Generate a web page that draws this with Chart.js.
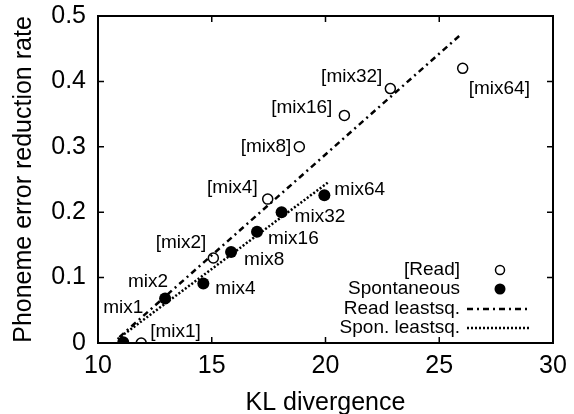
<!DOCTYPE html>
<html><head><meta charset="utf-8">
<script src="https://cdn.jsdelivr.net/npm/chart.js@4.4.1/dist/chart.umd.min.js"></script>
<style>html,body{margin:0;padding:0;background:#fff}#wrap{width:574px;height:414px}</style>
</head><body><div id="wrap"><canvas id="c" width="574" height="414"></canvas></div>
<script>
const readLabels = ['[mix1]','[mix2]','[mix4]','[mix8]','[mix16]','[mix32]','[mix64]'];
const readX = [11.9, 15.07, 17.46, 18.85, 20.83, 22.85, 26.03];
const readY = [0.0, 0.130, 0.220, 0.300, 0.348, 0.389, 0.420];
const sponLabels = ['mix1','mix2','mix4','mix8','mix16','mix32','mix64'];
const sponX = [11.11, 12.95, 14.63, 15.85, 16.99, 18.07, 19.95];
const sponY = [0.001, 0.068, 0.091, 0.139, 0.170, 0.200, 0.226];
const readFitX = [10.94, 25.96];
const readFitY = [0.009, 0.472];
const sponFitX = [10.86, 20.17];
const sponFitY = [0.006, 0.247];
const xTicks = [10, 15, 20, 25, 30];
const yTicks = [0, 0.1, 0.2, 0.3, 0.4, 0.5];
const legendNames = ['[Read]', 'Spontaneous', 'Read leastsq.', 'Spon. leastsq.'];

const FONT = "'Liberation Sans', Arial, sans-serif";
const toPts = (xs, ys) => xs.map((x, i) => ({x, y: ys[i]}));

// label placement: [align, dx, dy]
const readPlace = [['left',9,-11],['right',-7,-15],['right',-10,-11],['right',-8,0],['right',-12,-8],['right',-8,-12],['left',6,20]];
const sponPlace = [['center',0,-35],['right',3,-17],['left',12,5],['left',13,8],['left',11,7],['left',13,5],['left',10,-5]];

const deco = {
  id: 'deco',
  afterDatasetsDraw(chart) {
    const {ctx, chartArea: a, scales: {x, y}} = chart;
    ctx.save();
    ctx.strokeStyle = '#000'; ctx.lineWidth = 2;
    ctx.strokeRect(a.left, a.top, a.right - a.left, a.bottom - a.top);
    ctx.lineWidth = 1.5;
    const tl = 6;
    xTicks.forEach(v => {
      const px = x.getPixelForValue(v);
      ctx.beginPath(); ctx.moveTo(px, a.bottom); ctx.lineTo(px, a.bottom - tl);
      ctx.moveTo(px, a.top); ctx.lineTo(px, a.top + tl); ctx.stroke();
    });
    yTicks.forEach(v => {
      const py = y.getPixelForValue(v);
      ctx.beginPath(); ctx.moveTo(a.left, py); ctx.lineTo(a.left + tl, py);
      ctx.moveTo(a.right, py); ctx.lineTo(a.right - tl, py); ctx.stroke();
    });
    ctx.fillStyle = '#000';
    ctx.font = '19px ' + FONT;
    ctx.textBaseline = 'middle';
    readLabels.forEach((t, i) => {
      const p = readPlace[i];
      ctx.textAlign = p[0];
      ctx.fillText(t, x.getPixelForValue(readX[i]) + p[1], y.getPixelForValue(readY[i]) + p[2]);
    });
    sponLabels.forEach((t, i) => {
      const p = sponPlace[i];
      ctx.textAlign = p[0];
      ctx.fillText(t, x.getPixelForValue(sponX[i]) + p[1], y.getPixelForValue(sponY[i]) + p[2]);
    });
    const tx = a.right - 93, sx = a.right - 53;
    const rows = [a.bottom - 73, a.bottom - 54, a.bottom - 34, a.bottom - 15];
    ctx.textAlign = 'right';
    legendNames.forEach((t, i) => ctx.fillText(t, tx, rows[i]));
    ctx.lineWidth = 1.5;
    ctx.beginPath(); ctx.arc(sx, rows[0], 4.5, 0, Math.PI * 2); ctx.stroke();
    ctx.beginPath(); ctx.arc(sx, rows[1], 5.5, 0, Math.PI * 2); ctx.fill();
    ctx.lineWidth = 2.5;
    ctx.setLineDash([6, 4, 2, 4]);
    ctx.beginPath(); ctx.moveTo(sx - 33, rows[2]); ctx.lineTo(sx + 30, rows[2]); ctx.stroke();
    ctx.setLineDash([2, 2]);
    ctx.beginPath(); ctx.moveTo(sx - 33, rows[3]); ctx.lineTo(sx + 30, rows[3]); ctx.stroke();
    ctx.restore();
  }
};

new Chart(document.getElementById('c'), {
  type: 'scatter',
  data: {
    datasets: [
      {label: 'Read leastsq.', type: 'line', data: toPts(readFitX, readFitY), borderColor: '#000', borderWidth: 2.5,
       borderDash: [6, 4, 2, 4], pointRadius: 0, fill: false, showLine: true},
      {label: 'Spon. leastsq.', type: 'line', data: toPts(sponFitX, sponFitY), borderColor: '#000', borderWidth: 2.5,
       borderDash: [2, 2], pointRadius: 0, fill: false, showLine: true},
      {label: '[Read]', data: toPts(readX, readY), pointRadius: 5, pointBorderWidth: 1.5,
       pointBorderColor: '#000', pointBackgroundColor: '#fff'},
      {label: 'Spontaneous', data: toPts(sponX, sponY), pointRadius: 6, pointBorderWidth: 0,
       pointBackgroundColor: '#000', pointBorderColor: '#000'}
    ]
  },
  options: {
    responsive: false, animation: false, devicePixelRatio: 1,
    layout: {padding: {top: 16, right: 21, left: 0, bottom: 0}},
    plugins: {legend: {display: false}, tooltip: {enabled: false}},
    scales: {
      x: {type: 'linear', min: 10, max: 30,
          afterBuildTicks: s => { s.ticks = xTicks.map(v => ({value: v})); },
          afterFit: s => { s.height = 71; s.paddingLeft = 0; s.paddingRight = 0; },
          grid: {display: false, drawTicks: false}, border: {display: false},
          ticks: {color: '#000', font: {family: FONT, size: 25}, padding: 8},
          title: {display: true, text: 'KL divergence', color: '#000', font: {family: FONT, size: 25}, padding: {top: 0, bottom: -4}}},
      y: {type: 'linear', min: 0, max: 0.5,
          afterBuildTicks: s => { s.ticks = yTicks.map(v => ({value: v})); },
          afterFit: s => { s.width = 98; s.paddingTop = 0; s.paddingBottom = 0; },
          grid: {display: false, drawTicks: false}, border: {display: false},
          ticks: {color: '#000', font: {family: FONT, size: 25}, padding: 12,
                  callback: v => (v === 0 ? '0' : v.toFixed(1))},
          title: {display: true, text: 'Phoneme error reduction rate', color: '#000', font: {family: FONT, size: 25}, padding: {top: 9, bottom: 0}}}
    }
  },
  plugins: [deco]
});
</script></body></html>
